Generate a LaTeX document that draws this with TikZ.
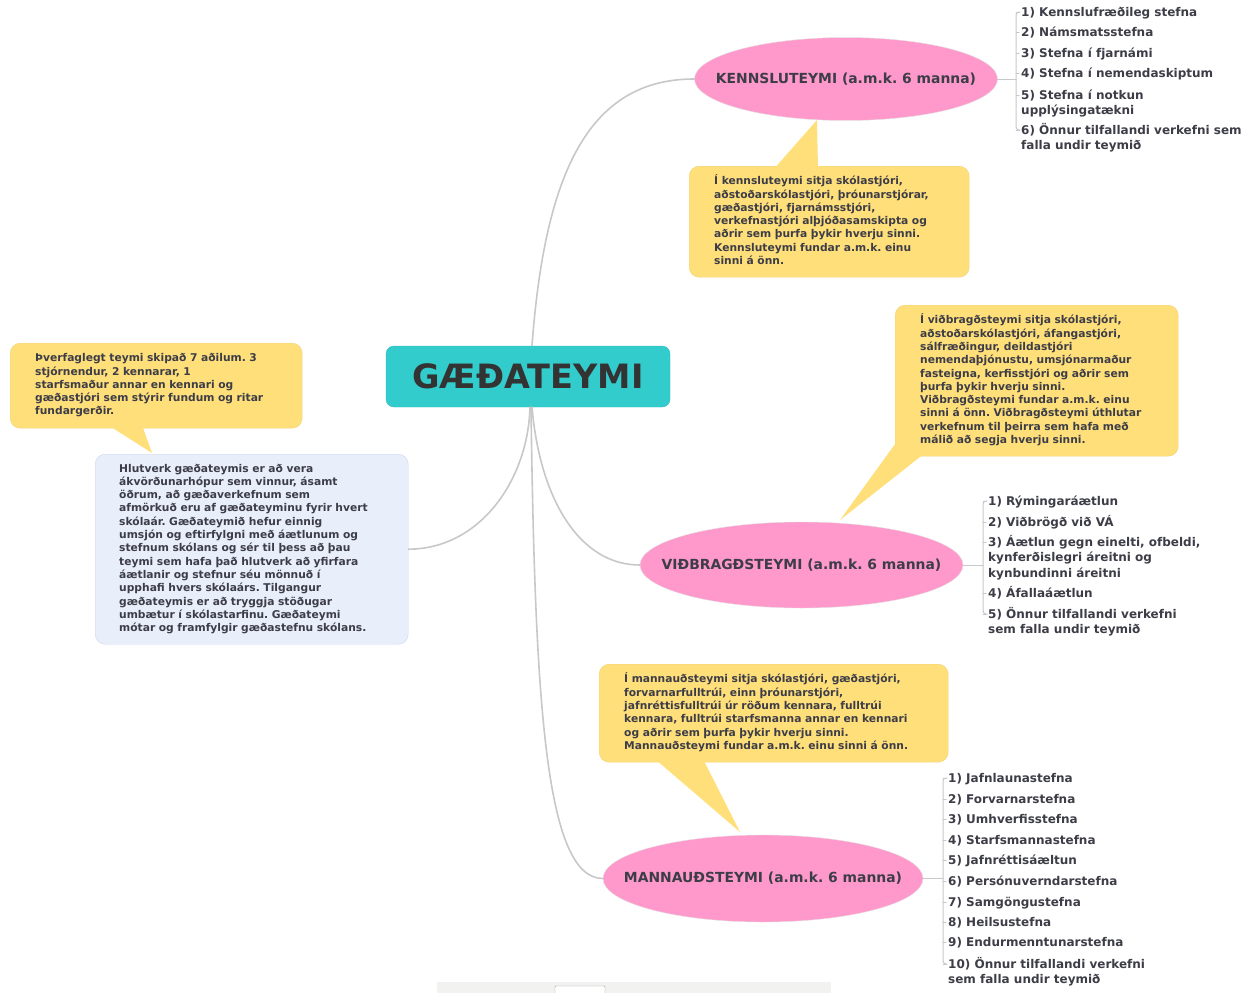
\documentclass[tikz,border=0pt]{standalone}
\usepackage{fontspec}
\setmainfont{DejaVu Sans}
\usetikzlibrary{shapes.geometric}
\setlength\parindent{0pt}
\frenchspacing
\definecolor{hubcol}{HTML}{33CCCC}
\definecolor{hubtxt}{HTML}{333333}
\definecolor{pinkcol}{HTML}{FF99CC}
\definecolor{notecol}{HTML}{FFDF7A}
\definecolor{noteline}{HTML}{F2D37A}
\definecolor{infocol}{HTML}{E8EEFA}
\definecolor{infoline}{HTML}{CDD6EA}
\definecolor{linkcol}{HTML}{C8C8C8}
\definecolor{txt}{HTML}{3D3D48}
\definecolor{barcol}{HTML}{F2F2F0}
\newcommand\lns[1]{\begin{tabular}[t]{@{}l@{}}#1\end{tabular}}
\tikzset{
 hub/.style={draw=hubcol!92!black, fill=hubcol, rounded corners=8pt, minimum width=284pt, minimum height=61pt, font=\fontsize{33.5}{36}\selectfont\bfseries, text=hubtxt},
 team/.style={ellipse, draw=black!12, fill=pinkcol, inner sep=0pt, font=\fontsize{13.9}{16}\selectfont\bfseries, text=txt},
 note/.style={fill=notecol, draw=noteline, rounded corners=10pt, inner xsep=25pt, anchor=north west, font=\fontsize{10.7}{13.3}\selectfont\bfseries, text=txt},
 info/.style={note, fill=infocol, draw=infoline, inner xsep=24pt},
 link/.style={draw=linkcol, line width=1.6pt},
 brk/.style={draw=linkcol, line width=1pt, rounded corners=3pt},
 item/.style={anchor=base west, inner sep=0pt, font=\fontsize{12}{15.5}\selectfont\bfseries, text=txt},
}
\begin{document}
\begin{tikzpicture}[x=1pt, y=-1pt, line join=round, line cap=round]
\useasboundingbox (0,0) rectangle (1248,993);
\fill[white] (0,0) rectangle (1248,993);
\fill[barcol] (437,982) rectangle (831,993);
\draw[black!35, fill=white, rounded corners=1pt] (555,993) -- (555,986) -- (605,986) -- (605,993);

\node[hub] (gt) at (528,376.5) {GÆÐATEYMI};
\node[team, minimum width=303pt, minimum height=83pt] (kenn) at (846,79) {\makebox[0pt]{KENNSLUTEYMI (a.m.k. 6 manna)}};
\node[team, minimum width=323pt, minimum height=86pt] (vidb) at (801.5,565) {\makebox[0pt]{VIÐBRAGÐSTEYMI (a.m.k. 6 manna)}};
\node[team, minimum width=320pt, minimum height=87pt] (mann) at (763,878.5) {\makebox[0pt]{MANNAUÐSTEYMI (a.m.k. 6 manna)}};

\node[note, text width=230pt, minimum height=111pt] (nkenn) at (689,166) {\lns{Í kennsluteymi sitja skólastjóri,\\ aðstoðarskólastjóri, þróunarstjórar,\\ gæðastjóri, fjarnámsstjóri,\\ verkefnastjóri alþjóðasamskipta og\\ aðrir sem þurfa þykir hverju sinni.\\ Kennsluteymi fundar a.m.k. einu\\ sinni á önn.}};
\node[note, text width=242pt, minimum height=85pt] (nteymi) at (10,343) {\lns{Þverfaglegt teymi skipað 7 aðilum. 3\\ stjórnendur, 2 kennarar, 1\\ starfsmaður annar en kennari og\\ gæðastjóri sem stýrir fundum og ritar\\ fundargerðir.}};
\node[info, text width=265pt, minimum height=190pt] (hlut) at (95,454) {\lns{Hlutverk gæðateymis er að vera\\ ákvörðunarhópur sem vinnur, ásamt\\ öðrum, að gæðaverkefnum sem\\ afmörkuð eru af gæðateyminu fyrir hvert\\ skólaár. Gæðateymið hefur einnig\\ umsjón og eftirfylgni með áætlunum og\\ stefnum skólans og sér til þess að þau\\ teymi sem hafa það hlutverk að yfirfara\\ áætlanir og stefnur séu mönnuð í\\ upphafi hvers skólaárs. Tilgangur\\ gæðateymis er að tryggja stöðugar\\ umbætur í skólastarfinu. Gæðateymi\\ mótar og framfylgir gæðastefnu skólans.}};
\node[note, text width=233pt, minimum height=151pt] (nvidb) at (895,305) {\lns{Í viðbragðsteymi sitja skólastjóri,\\ aðstoðarskólastjóri, áfangastjóri,\\ sálfræðingur, deildastjóri\\ nemendaþjónustu, umsjónarmaður\\ fasteigna, kerfisstjóri og aðrir sem\\ þurfa þykir hverju sinni.\\ Viðbragðsteymi fundar a.m.k. einu\\ sinni á önn. Viðbragðsteymi úthlutar\\ verkefnum til þeirra sem hafa með\\ málið að segja hverju sinni.}};
\node[note, text width=299pt, minimum height=98pt] (nmann) at (599,664) {\lns{Í mannauðsteymi sitja skólastjóri, gæðastjóri,\\ forvarnarfulltrúi, einn þróunarstjóri,\\ jafnréttisfulltrúi úr röðum kennara, fulltrúi\\ kennara, fulltrúi starfsmanna annar en kennari\\ og aðrir sem þurfa þykir hverju sinni.\\ Mannauðsteymi fundar a.m.k. einu sinni á önn.}};

\fill[notecol] (773,170) -- (817,120) -- (818,170) -- cycle;
\fill[notecol] (108,425) -- (152,453) -- (142,425) -- cycle;
\fill[notecol] (898,440) -- (840,520) -- (925,453) -- cycle;
\fill[notecol] (655,759) -- (740,832) -- (703,759) -- cycle;

\draw[link] ([xshift=4pt]gt.north) .. controls (545,170) and (590,79) .. (kenn.west);
\draw[link] ([xshift=2pt]gt.south) .. controls (528,480) and (480,549) .. (hlut.east);
\draw[link] ([xshift=4pt]gt.south) .. controls (540,500) and (580,565) .. (vidb.west);
\draw[link] ([xshift=3pt]gt.south) .. controls (535,700) and (545,878.5) .. (mann.west);

\draw[brk] (kenn.east) -- (1016,79);
\draw[brk] (1020,12) -| (1016,130) -- (1020,130);
\foreach \y/\t in {12/{1) Kennslufræðileg stefna}, 32/{2) Námsmatsstefna}, 53/{3) Stefna í fjarnámi}, 73/{4) Stefna í nemendaskiptum}, 95/{5) Stefna í notkun\\ upplýsingatækni}, 130/{6) Önnur tilfallandi verkefni sem\\ falla undir teymið}}
 {\draw[brk] (1016,\y) -- (1019,\y); \node[item] (k\y) at (1021,\y+4.4) {\lns{\t}};}

\draw[brk] (vidb.east) -- (983,565);
\draw[brk] (987,501) -| (983,614) -- (987,614);
\foreach \y/\t in {501/{1) Rýmingaráætlun}, 522/{2) Viðbrögð við VÁ}, 542/{3) Áætlun gegn einelti, ofbeldi,\\ kynferðislegri áreitni og\\ kynbundinni áreitni}, 593/{4) Áfallaáætlun}, 614/{5) Önnur tilfallandi verkefni\\ sem falla undir teymið}}
 {\draw[brk] (983,\y) -- (986,\y); \node[item] (v\y) at (988,\y+4.4) {\lns{\t}};}

\draw[brk] (mann.east) -- (943,878.5);
\draw[brk] (947,778) -| (943,964) -- (947,964);
\foreach \y/\t in {778/{1) Jafnlaunastefna}, 799/{2) Forvarnarstefna}, 819/{3) Umhverfisstefna}, 840/{4) Starfsmannastefna}, 860/{5) Jafnréttisáæltun}, 881/{6) Persónuverndarstefna}, 902/{7) Samgöngustefna}, 922/{8) Heilsustefna}, 942/{9) Endurmenntunarstefna}, 964/{10) Önnur tilfallandi verkefni\\ sem falla undir teymið}}
 {\draw[brk] (943,\y) -- (946,\y); \node[item] (m\y) at (948,\y+4.4) {\lns{\t}};}
\end{tikzpicture}
\end{document}
